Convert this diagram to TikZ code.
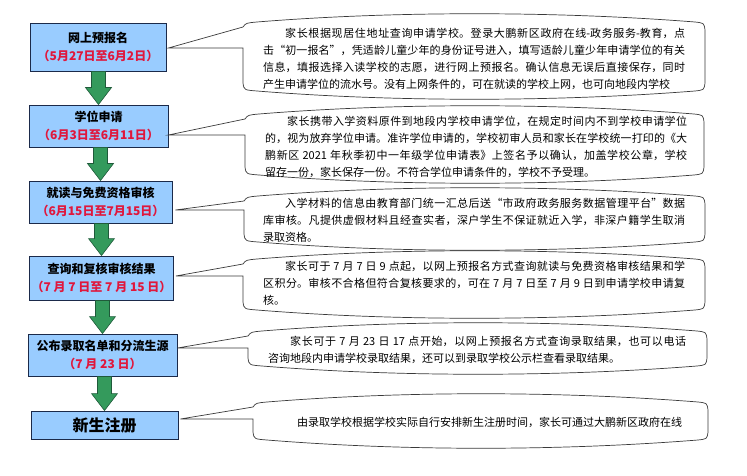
\documentclass[tikz,border=0pt]{standalone}
\usepackage{fontspec}
\usepackage{xcolor}
\usepackage{tikz}
\usetikzlibrary{calc,positioning}
\newfontfamily\cjk{Noto Sans CJK SC}
\XeTeXlinebreaklocale "zh"
\XeTeXlinebreakskip=0pt plus 1pt
\definecolor{skyx}{HTML}{99CCFF}
\definecolor{navyx}{HTML}{1B2A4A}
\definecolor{redx}{HTML}{E0173C}
\definecolor{greenx}{HTML}{349A5C}
\definecolor{darkgx}{HTML}{1F5A3A}
\definecolor{linex}{HTML}{3A3A3A}
\tikzset{
  box/.style={draw=navyx,line width=0.9pt,fill=skyx,align=center,inner sep=2pt,font=\cjk\bfseries\fontsize{12}{18}\selectfont},
  txt/.style={anchor=north west,inner sep=0pt,text width=422pt,align=justify,font=\cjk\fontsize{11}{17}\selectfont},
  bub/.style={draw=linex,line width=0.7pt},
  arr/.style={fill=greenx,draw=darkgx,line width=0.6pt}
}
\newcommand\dates[1]{{\color{redx}#1}}
% callout outline: tip, left, top, right, bottom
\newcommand\bubble[5]{%
  \draw[bub] (#1) -- (#2,#3+13) .. controls (#2+3,#3+9) .. (#2+14,#3+8)
    .. controls (#2+150,#3-3) and (#4-150,#3-3) .. (#4-10,#3+8)
    .. controls (#4-1,#3+9) .. (#4,#3+16) -- (#4,#5-16)
    .. controls (#4-1,#5-9) .. (#4-10,#5-8)
    .. controls (#4-150,#5+3) and (#2+150,#5+3) .. (#2+14,#5-8)
    .. controls (#2+1,#5-9) .. (#2,#5-16) -- (#1 -| #2,0) -- cycle;}
% block arrow from one box down to the next
\newcommand\flow[2]{%
  \draw[arr] ($(#1.south -| #2.north)+(-7pt,0)$) -- ($(#1.south -| #2.north)+(7pt,0)$)
    -- ($(#2.north)+(7pt,17pt)$) -- ($(#2.north)+(13pt,17pt)$) -- (#2.north)
    -- ($(#2.north)+(-13pt,17pt)$) -- ($(#2.north)+(-7pt,17pt)$) -- cycle;}

\begin{document}
\begin{tikzpicture}[x=1pt,y=-1pt]
\useasboundingbox (0,0) rectangle (747,476);
% steps
\node[box,minimum width=136pt,minimum height=48pt] (b1) at (98,47) {网上预报名\\\dates{（5月27日至6月2日）}};
\node[box,minimum width=139pt,minimum height=42pt] (b2) at (98.5,126) {学位申请\\\dates{（6月3日至6月11日）}};
\node[box,minimum width=143pt,minimum height=42pt] (b3) at (100.5,202) {就读与免费资格审核\\\dates{（6月15日至7月15日）}};
\node[box,minimum width=143pt,minimum height=44pt] (b4) at (101.5,278) {查询和复核审核结果\\\dates{（7 月 7 日至 7 月 15 日）}};
\node[box,minimum width=149pt,minimum height=42pt] (b5) at (102.5,355) {公布录取名单和分流生源\\\dates{（7 月 23 日）}};
\node[box,minimum width=147pt,minimum height=28pt,font=\cjk\bfseries\fontsize{16}{18}\selectfont] (b6) at (104.5,425) {新生注册};
\flow{b1}{b2}
\flow{b2}{b3}
\flow{b3}{b4}
\flow{b4}{b5}
\flow{b5}{b6}
% callouts
\coordinate (t1) at ($(b1.east)+(2,1)$);
\coordinate (t2) at ($(b2.east)+(0,9)$);
\coordinate (t3) at ($(b3.east)+(3,8)$);
\coordinate (t4) at ($(b4.east)+(2,-2)$);
\coordinate (t5) at ($(b5.east)+(0,-7)$);
\coordinate (t6) at ($(b6.east)+(2,-6)$);
\bubble{t1}{243}{14}{705}{99}
\bubble{t2}{245}{106}{704}{183}
\bubble{t3}{244}{188}{705}{250}
\bubble{t4}{243}{251}{705}{318}
\bubble{t5}{248}{323}{707}{374}
\bubble{t6}{253}{394}{708}{448}
\node[txt] (n1) at (263,28) {\parfillskip=0pt\noindent\hspace*{2em}家长根据现居住地址查询申请学校。登录大鹏新区政府在线-政务服务-教育，点\linebreak
击“初一报名”，凭适龄儿童少年的身份证号进入，填写适龄儿童少年申请学位的有关\linebreak
信息，填报选择入读学校的志愿，进行网上预报名。确认信息无误后直接保存，同时\linebreak
产生申请学位的流水号。没有上网条件的，可在就读的学校上网，也可向地段内学校};
\node[txt] (n2) at (265,115.5) {\noindent\hspace*{2em}家长携带入学资料原件到地段内学校申请学位，在规定时间内不到学校申请学位\linebreak
的，视为放弃学位申请。准许学位申请的，学校初审人员和家长在学校统一打印的《大\linebreak
鹏新区 2021 年秋季初中一年级学位申请表》上签名予以确认，加盖学校公章，学校\linebreak
留存一份，家长保存一份。不符合学位申请条件的，学校不予受理。};
\node[txt] (n3) at (263,198) {\noindent\hspace*{2em}入学材料的信息由教育部门统一汇总后送“市政府政务服务数据管理平台”数据\linebreak
库审核。凡提供虚假材料且经查实者，深户学生不保证就近入学，非深户籍学生取消\linebreak
录取资格。};
\node[txt] (n4) at (263,261) {\noindent\hspace*{2em}家长可于 7 月 7 日 9 点起，以网上预报名方式查询就读与免费资格审核结果和学\linebreak
区积分。审核不合格但符合复核要求的，可在 7 月 7 日至 7 月 9 日到申请学校申请复\linebreak
核。};
\node[txt,text width=418pt] (n5) at (268,335.5) {\noindent\hspace*{2em}家长可于 7 月 23 日 17 点开始，以网上预报名方式查询录取结果，也可以电话\linebreak
咨询地段内申请学校录取结果，还可以到录取学校公示栏查看录取结果。};
\node[txt,text width=393pt] (n6) at (297,416.5) {\parfillskip=0pt\noindent 由录取学校根据学校实际自行安排新生注册时间，家长可通过大鹏新区政府在线};
\end{tikzpicture}
\end{document}
